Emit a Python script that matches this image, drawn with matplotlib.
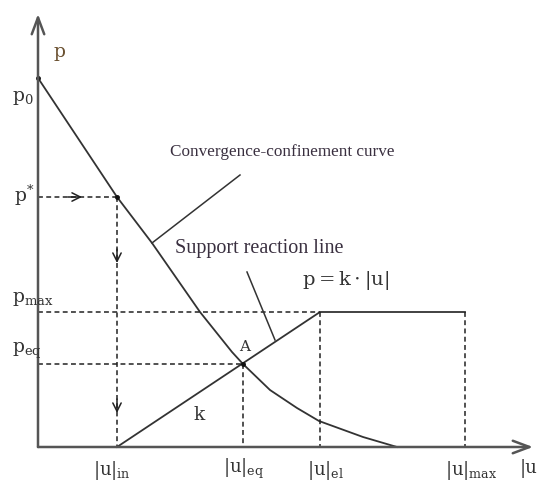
import matplotlib
matplotlib.use("Agg")
import matplotlib.pyplot as plt
import numpy as np

plt.rcParams['font.family'] = ['DejaVu Serif']
plt.rcParams['mathtext.fontset'] = 'custom'
plt.rcParams['mathtext.rm'] = 'DejaVu Serif'
plt.rcParams['mathtext.it'] = 'DejaVu Serif'

# characteristic pressures and displacements (schematic units)
p0 = 3.69
p_star = 2.50
p_max = 1.35
p_eq = 0.83
u_in = 0.79
u_eq = 2.05
u_el = 2.82
u_max = 4.27

# convergence-confinement curve
curve_u = [0.0, 0.79, 1.14, 1.62, 1.94, 2.05, 2.32, 2.59, 2.81, 3.25, 3.59]
curve_p = [3.69, 2.50, 2.04, 1.35, 0.95, 0.83, 0.57, 0.39, 0.26, 0.10, 0.0]

line_c = '#333333'
axis_c = '#555555'
text_c = '#333333'
note_c = '#3a3040'
dash = (0, (3.2, 2.2))

fig = plt.figure(figsize=(5.38, 4.83), dpi=100)
ax = fig.add_axes([0, 0, 1, 1])
ax.set_xlim(-0.38, 5.00)
ax.set_ylim(-0.36, 4.47)
ax.axis('off')

# axes with open arrowheads
arr = dict(arrowstyle='->,head_length=1.2,head_width=0.45', color=axis_c, lw=1.8,
           shrinkA=0, shrinkB=0)
ax.annotate('', xy=(0, 4.33), xytext=(0, 0), arrowprops=arr)
ax.annotate('', xy=(4.95, 0), xytext=(0, 0), arrowprops=arr)

# reaction curve of the ground
ax.plot(curve_u, curve_p, color=line_c, lw=1.3)

# support reaction line: linear up to u_el, then constant p_max
ax.plot([u_in, u_el, u_max], [0, p_max, p_max], color=line_c, lw=1.3)

# guide lines
dl = dict(color='#222222', lw=1.1, linestyle=dash)
ax.plot([0, u_in], [p_star, p_star], **dl)
ax.plot([u_in, u_in], [p_star, 0], **dl)
ax.plot([0, u_el], [p_max, p_max], **dl)
ax.plot([u_el, u_el], [p_max, 0], **dl)
ax.plot([u_max, u_max], [p_max, 0], **dl)
ax.plot([0, u_eq], [p_eq, p_eq], **dl)
ax.plot([u_eq, u_eq], [p_eq, 0], **dl)

small = dict(arrowstyle='->,head_length=0.6,head_width=0.3', color='#222222', lw=1.1,
             shrinkA=0, shrinkB=0)
ax.annotate('', xy=(0.44, p_star), xytext=(0.30, p_star), arrowprops=small)
ax.annotate('', xy=(u_in, 1.84), xytext=(u_in, 1.98), arrowprops=small)
ax.annotate('', xy=(u_in, 0.34), xytext=(u_in, 0.48), arrowprops=small)

# points
ax.plot([0, u_in, u_eq], [p0, p_star, p_eq], 'o', color='#111111', ms=2.5)

# leader lines
ax.plot([1.14, 2.02], [2.04, 2.72], color=line_c, lw=1.1)
ax.plot([2.09, 2.37], [1.75, 1.07], color=line_c, lw=1.1)

fs = 13.5
ax.text(0.15, 3.95, 'p', fontsize=fs, color='#6a5030', va='center', ha='left')
ax.text(-0.26, 3.49, r'$\mathrm{p}_0$', fontsize=fs, color=text_c, va='center')
ax.text(-0.24, 2.52, r'$\mathrm{p}^{*}$', fontsize=fs, color=text_c, va='center')
ax.text(-0.26, 1.48, r'$\mathrm{p}_{\mathrm{max}}$', fontsize=fs, color=text_c, va='center')
ax.text(-0.26, 0.96, r'$\mathrm{p}_{\mathrm{eq}}$', fontsize=fs, color=text_c, va='center')
ax.text(0.55, -0.24, r'$\mathrm{|u|}_{\mathrm{in}}$', fontsize=13, color=text_c, va='center')
ax.text(1.85, -0.22, r'$\mathrm{|u|}_{\mathrm{eq}}$', fontsize=13, color=text_c, va='center')
ax.text(2.69, -0.24, r'$\mathrm{|u|}_{\mathrm{el}}$', fontsize=13, color=text_c, va='center')
ax.text(4.07, -0.23, r'$\mathrm{|u|}_{\mathrm{max}}$', fontsize=13, color=text_c, va='center')
ax.text(4.82, -0.22, '|u', fontsize=13, color=text_c, va='center')
ax.text(2.07, 1.00, 'A', fontsize=11, color=text_c, va='center', ha='center')
ax.text(1.61, 0.32, 'k', fontsize=13.5, color=text_c, va='center', ha='center')

ax.text(1.32, 2.95, 'Convergence-confinement curve', fontsize=12.3, color=note_c,
        va='center', family='Liberation Serif')
ax.text(1.37, 1.99, 'Support reaction line', fontsize=14.5, color=note_c,
        va='center', family='Liberation Serif')
ax.text(2.64, 1.67, r'$\mathrm{p = k \cdot |u|}$', fontsize=14, color=text_c, va='center')

fig.savefig('out.png', dpi=100)
